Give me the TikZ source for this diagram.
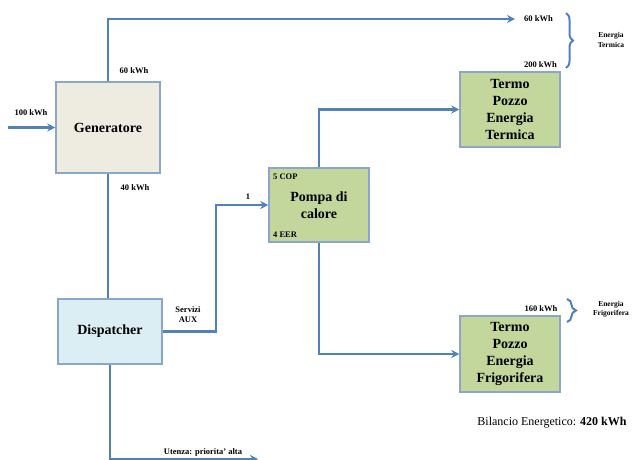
\documentclass[tikz,border=0pt]{standalone}
\usepackage{fontspec}
\setmainfont{Liberation Serif}
\usetikzlibrary{arrows.meta}
\usetikzlibrary{decorations.pathreplacing}
\definecolor{flowblue}{HTML}{4F81BD}
\definecolor{boxline}{HTML}{8AA6C8}
\definecolor{genfill}{HTML}{EEECE1}
\definecolor{dispfill}{HTML}{DBEEF4}
\definecolor{pumpfill}{HTML}{C3D69B}

\begin{document}
\begin{tikzpicture}[x=1pt, y=-1pt,
        box/.style = {draw=boxline, line width=1.5pt, align=center,
            font=\fontsize{14}{17}\selectfont\bfseries},
        unbox/.style = {align=center, inner sep=0pt,
            font=\fontsize{8.5}{10}\selectfont\bfseries},
        small/.style = {align=center, inner sep=0pt,
            font=\fontsize{7.5}{9.5}\selectfont\bfseries},
        flow/.style = {draw=flowblue, line width=2.4pt,
            -{Stealth[length=8pt,width=8pt]}},
        line/.style = {draw=flowblue, line width=2.4pt},
        brace/.style = {draw=flowblue, line width=2pt,
            decorate, decoration={brace, amplitude=7pt}}]
        \useasboundingbox (0,0) rectangle (632,459);
        \node[box, fill=genfill, minimum width=104, minimum height=91] (gen) at (108,127.5) {Generatore};
        \node[box, fill=dispfill, minimum width=104, minimum height=65] (disp) at (110,331.5) {Dispatcher};
        \node[box, fill=pumpfill, minimum width=100, minimum height=74] (pump) at (319,205) {Pompa di\\calore};
        \node[box, fill=pumpfill, minimum width=100, minimum height=75] (therm) at (510,109.5) {Termo\\Pozzo\\Energia\\Termica};
        \node[box, fill=pumpfill, minimum width=100, minimum height=76] (frigo) at (510,354) {Termo\\Pozzo\\Energia\\Frigorifera};
        \coordinate (in) at (8,127.5);
        \coordinate (out) at (515,19);
        \coordinate (user) at (258,459);
        % etichette
        \node[unbox] (l100) at (31,113) {100 kWh};
        \node[unbox] (lgen60) at (134,71) {60 kWh};
        \node[unbox] (lgen40) at (135,188) {40 kWh};
        \node[unbox] (lout60) at (538.5,18.5) {60 kWh};
        \node[unbox] (l200) at (540.5,65) {200 kWh};
        \node[unbox] (l160) at (541,309) {160 kWh};
        \node[unbox] (lone) at (248,197) {1};
        \node[unbox, anchor=west] (lcop) at (273,177) {5 COP};
        \node[unbox, anchor=west] (leer) at (273,235) {4 EER};
        \node[unbox] (laux) at (188,315) {Servizi\\AUX};
        \node[unbox] (luser) at (203,452) {Utenza: priorita' alta};
        \node[small] (eterm) at (611,40) {Energia\\Termica};
        \node[small] (efrig) at (611,309) {Energia\\Frigorifera};
        \node[inner sep=0pt, font=\fontsize{12}{14}\selectfont] (bil) at (552,423) {Bilancio Energetico: \textbf{420 kWh}};
        % flussi
        \draw[flow] (in) -- (gen.west);
        \draw[flow] (gen.north) |- (out);
        \draw[line] (gen.south) -- (gen.south |- disp.north);
        \draw[flow] (disp.east) -- ++(53,0) |- (pump.west);
        \draw[flow] (disp.south) |- (user);
        \draw[flow] (pump.north) |- (therm.west);
        \draw[flow] (pump.south) |- (frigo.west);
        \draw[brace] (566,13) -- (566,68);
        \draw[brace, decoration={amplitude=9pt}] (567,299) -- (567,322);
    \end{tikzpicture}
\end{document}
